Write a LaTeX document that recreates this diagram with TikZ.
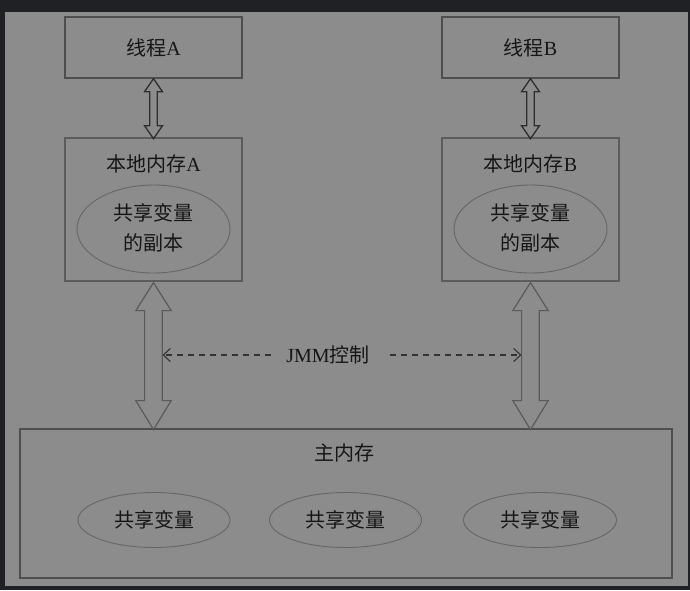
\documentclass[tikz,border=0pt]{standalone}
\usepackage{fontspec}
\setmainfont{Liberation Serif}
\newfontfamily\cjk{Noto Sans CJK SC}
\usetikzlibrary{arrows.meta,shapes.geometric,calc}
\definecolor{bgc}{HTML}{8C8C8C}
\definecolor{framec}{HTML}{202124}
\definecolor{boxline}{HTML}{4E4E4E}
\definecolor{boxlinelight}{HTML}{5C5C5C}
\definecolor{ellline}{HTML}{666666}
\definecolor{txtc}{HTML}{161616}
\definecolor{bigarr}{HTML}{5A5A5A}
\definecolor{smallarr}{HTML}{2E2E2E}
\definecolor{dashc}{HTML}{333333}
\tikzset{
  txt/.style={text=txtc, font=\fontsize{20}{30}\selectfont, inner sep=0pt},
  threadbox/.style={draw=boxline, line width=1.4pt, minimum width=177pt, minimum height=61pt, txt},
  localbox/.style={draw=boxlinelight, line width=1.2pt, minimum width=177pt, minimum height=143pt},
  mainbox/.style={draw=boxline, line width=1.4pt, minimum width=652pt, minimum height=149pt},
  varell/.style={ellipse, draw=ellline, line width=0.9pt, txt, align=center},
  bigarrow/.style={draw=bigarr, line width=1.2pt, line join=miter},
  smallarrow/.style={draw=smallarr, line width=1.3pt, line join=miter},
  dasharrow/.style={draw=dashc, line width=1.1pt, dash pattern=on 6pt off 5pt, -{Straight Barb[length=7pt,width=13pt,line width=1.1pt]}}
}
\newcommand\copytext{\raisebox{-5pt}{\cjk\begin{tabular}{@{}c@{}}共享变量\\的副本\end{tabular}}}
\begin{document}
\begin{tikzpicture}[x=1pt,y=-1pt]
\fill[framec] (0,0) rectangle (690,590);
\fill[bgc] (5,12) rectangle (688,586);
\useasboundingbox (0,0) rectangle (690,590);

% thread boxes
\node[threadbox] (ta) at (153.5,47.5) {{\cjk 线程}A};
\node[threadbox] (tb) at (530.5,47.5) {{\cjk 线程}B};

% local memory boxes
\node[localbox] (la) at (153.5,209.5) {};
\node[localbox] (lb) at (530.5,209.5) {};
\node[txt] (lat) at (153.5,163.5) {{\cjk 本地内存}A};
\node[txt] (lbt) at (530.5,163.5) {{\cjk 本地内存}B};
\node[varell, minimum width=153pt, minimum height=88pt] (ea) at (153.5,229) {\copytext};
\node[varell, minimum width=153pt, minimum height=88pt] (eb) at (530.5,229) {\copytext};

% main memory
\node[mainbox] (mm) at (346,503.5) {};
\node[txt] (mmt) at (344,453) {\cjk 主内存};
\node[varell, minimum width=152pt, minimum height=55pt] (m1) at (154,520) {\cjk 共享变量};
\node[varell, minimum width=152pt, minimum height=55pt] (m2) at (345.5,520) {\cjk 共享变量};
\node[varell, minimum width=153pt, minimum height=55pt] (m3) at (540,520) {\cjk 共享变量};

% small double arrows (thread <-> local memory)
\foreach \t in {ta,tb}{
  \draw[smallarrow] (\t.south) -- ++(9,13) -- ++(-5.3,0) -- ++(0,34) -- ++(5.3,0)
    -- ++(-9,13) -- ++(-9,-13) -- ++(5.3,0) -- ++(0,-34) -- ++(-5.3,0) -- cycle;
}

% large double arrows (local memory <-> main memory)
\foreach \l in {la,lb}{
  \draw[bigarrow] ([yshift=-1pt]\l.south) -- ++(17.7,28) -- ++(-8.9,0) -- ++(0,90) -- ++(8.9,0)
    -- ++(-17.7,29) -- ++(-17.7,-29) -- ++(8.8,0) -- ++(0,-90) -- ++(-8.8,0) -- cycle;
}

% JMM control
\node[txt] (jmm) at (328,355) {JMM{\cjk 控制}};
\coordinate (sa) at (162.5,355);
\coordinate (sb) at (521.5,355);
\draw[dasharrow] ([xshift=-15pt]jmm.west) -- (sa);
\draw[dasharrow] ([xshift=20pt]jmm.east) -- (sb);
\end{tikzpicture}
\end{document}
